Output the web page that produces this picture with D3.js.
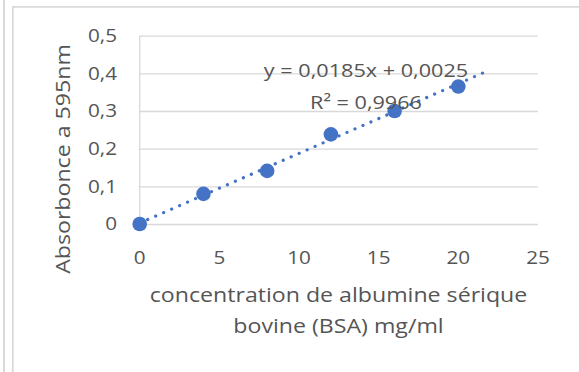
<!DOCTYPE html>
<html><head><meta charset="utf-8">
<script src="https://cdn.jsdelivr.net/npm/d3@7"></script>
<style>
html,body{margin:0;padding:0;background:#fff;}
svg{display:block;}
text{font-family:"Open Sans",sans-serif;fill:#555555;}
</style></head>
<body>
<svg id="c" width="579" height="372"></svg>
<script>
const concentrations = [0, 4, 8, 12, 16, 20];
const absorbances = [0, 0.080, 0.141, 0.238, 0.300, 0.365];
const xTicks = [0, 5, 10, 15, 20, 25];
const yTicks = [0, 0.1, 0.2, 0.3, 0.4, 0.5];
const trendSlope = 0.0185;
const trendIntercept = 0.0025;
const trendRange = [0, 21.8];
const equationLabel = "y = 0,0185x + 0,0025";
const r2Label = "R² = 0,9966";
const xTitleLines = ["concentration de albumine sérique", "bovine (BSA) mg/ml"];
const yTitle = "Absorbonce a 595nm";

const svg = d3.select("#c");
const blue = "#4472C4", grid = "#d9d9d9";

// outer frame lines
svg.append("line").attr("x1",4).attr("x2",4).attr("y1",0).attr("y2",372).attr("stroke",grid).attr("stroke-width",2);
svg.append("path").attr("d","M12.8,372V6.8H579").attr("fill","none").attr("stroke",grid).attr("stroke-width",1.7);

const x = d3.scaleLinear().domain([0,25]).range([139.7,538]);
const y = d3.scaleLinear().domain([0,0.5]).range([224,35.7]);
const fmt = d => d3.format(".1f")(d).replace(".", ",");

// gridlines
svg.append("g")
  .attr("transform",`translate(${x.range()[0]},0)`)
  .call(d3.axisLeft(y).tickValues(yTicks).tickSize(-(x.range()[1]-x.range()[0])).tickFormat(""))
  .call(g=>g.select(".domain").remove())
  .call(g=>g.selectAll("line").attr("stroke",grid).attr("stroke-width",1.3));
// y axis line
svg.append("line").attr("x1",x(0)).attr("x2",x(0)).attr("y1",y(0.5)).attr("y2",y(0)).attr("stroke",grid).attr("stroke-width",1.3);

function label(txt, px, py, size, anchor, sx, rot){
  const g = svg.append("g").attr("transform",`translate(${px},${py})${rot?` rotate(${rot})`:""} scale(${sx},1)`);
  return g.append("text").attr("text-anchor",anchor).attr("font-size",size).text(txt);
}
// y tick labels
yTicks.forEach(t => label(t===0?"0":fmt(t), 117, y(t)+6.4, 18, "end", 1.15));
// x tick labels
xTicks.forEach(t => label(String(t), x(t), 263.5, 18, "middle", 1.15));

// trendline
const line = d3.line().x(d=>x(d)).y(d=>y(trendSlope*d+trendIntercept));
svg.append("path").datum(trendRange).attr("d",line).attr("fill","none")
  .attr("stroke",blue).attr("stroke-width",3.2).attr("stroke-linecap","round")
  .attr("stroke-dasharray","0.1 8.6");

// markers
svg.selectAll("circle.pt").data(concentrations).join("circle").attr("class","pt")
  .attr("cx",(d)=>x(d)).attr("cy",(d,i)=>y(absorbances[i])).attr("r",7.3).attr("fill",blue);

// equation
label(equationLabel, 366, 77, 18.5, "middle", 1.17);
label(r2Label, 366, 108.5, 18.5, "middle", 1.17);

// axis titles
label(xTitleLines[0], 338.5, 302, 19.3, "middle", 1.2);
label(xTitleLines[1], 338.5, 333, 19.3, "middle", 1.2);
label(yTitle, 70, 159, 19.3, "middle", 1.2, -90);
</script>
</body></html>
